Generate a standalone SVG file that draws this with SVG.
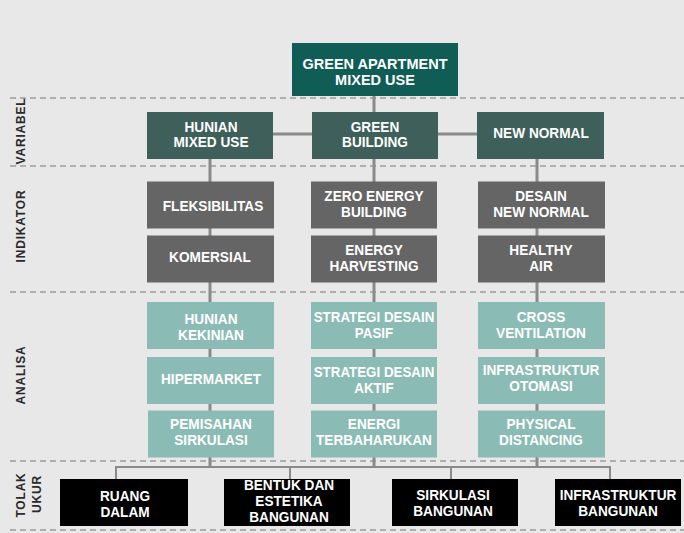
<svg xmlns="http://www.w3.org/2000/svg" width="684" height="533" viewBox="0 0 684 533">
  <style>
    .bg { fill: #e8e8e8; }
    .sep { stroke: #9c9c9c; stroke-width: 1.5; stroke-dasharray: 6 4; fill: none; }
    .wire { stroke: #8a8a8a; stroke-width: 3; fill: none; }
    .wire-thin { stroke: #8a8a8a; stroke-width: 2; fill: none; }
    .root { fill: #0f5d54; }
    .var { fill: #3e5f5a; }
    .ind { fill: #656565; }
    .ana { fill: #8bbbb5; }
    .ukur { fill: #000000; }
    .t { font-family: "Liberation Sans", Arial, sans-serif; font-weight: bold; font-size: 15px; fill: #ffffff; text-anchor: middle; }
    .troot { font-family: "Liberation Sans", Arial, sans-serif; font-weight: bold; font-size: 14.5px; fill: #ffffff; text-anchor: middle; }
    .side { font-family: "Liberation Sans", Arial, sans-serif; font-weight: bold; font-size: 12px; fill: #2a2a2a; text-anchor: middle; letter-spacing: 0.8px; }
  </style>

  <rect class="bg" x="0" y="0" width="684" height="533"/>

  <!-- row separators -->
  <g id="separators">
    <line class="sep" x1="10" y1="98" x2="684" y2="98"/>
    <line class="sep" x1="10" y1="166" x2="684" y2="166"/>
    <line class="sep" x1="10" y1="292" x2="684" y2="292"/>
    <line class="sep" x1="10" y1="461" x2="684" y2="461"/>
    <line class="sep" x1="10" y1="530" x2="684" y2="530"/>
  </g>

  <!-- row labels -->
  <g id="row-labels">
    <text class="side" transform="translate(25 131) rotate(-90)">VARIABEL</text>
    <text class="side" transform="translate(25 226) rotate(-90)">INDIKATOR</text>
    <text class="side" transform="translate(25 375) rotate(-90)">ANALISA</text>
    <text class="side" transform="translate(25 495) rotate(-90)">TOLAK</text>
    <text class="side" transform="translate(41 494) rotate(-90)">UKUR</text>
  </g>

  <!-- connectors -->
  <g id="connectors">
    <line class="wire" x1="374" y1="96" x2="374" y2="113"/>
    <line class="wire" x1="273" y1="134" x2="312" y2="134"/>
    <line class="wire" x1="438" y1="134" x2="477" y2="134"/>
    <line class="wire" x1="210" y1="158" x2="210" y2="467"/>
    <line class="wire" x1="374" y1="158" x2="374" y2="467"/>
    <line class="wire" x1="537" y1="158" x2="537" y2="467"/>
    <polyline class="wire-thin" points="116,480 116,467 610,467 610,480"/>
    <line class="wire-thin" x1="290" y1="467" x2="290" y2="480"/>
    <line class="wire-thin" x1="451" y1="467" x2="451" y2="480"/>
  </g>

  <!-- root -->
  <g id="green-apartment">
    <rect class="root" x="292" y="43" width="166" height="53"/>
    <text class="troot" x="375" y="68.5">GREEN APARTMENT</text>
    <text class="troot" x="375" y="84.5">MIXED USE</text>
  </g>

  <!-- variabel -->
  <g id="hunian-mixed-use">
    <rect class="var" x="147" y="112" width="126" height="47"/>
    <g transform="translate(211 0) scale(0.91 1)">
      <text class="t" x="0" y="131.7">HUNIAN</text>
      <text class="t" x="0" y="147.3">MIXED USE</text>
    </g>
  </g>
  <g id="green-building">
    <rect class="var" x="312" y="112" width="126" height="47"/>
    <g transform="translate(375 0) scale(0.91 1)">
      <text class="t" x="0" y="131.7">GREEN</text>
      <text class="t" x="0" y="147.3">BUILDING</text>
    </g>
  </g>
  <g id="new-normal">
    <rect class="var" x="477" y="112" width="127" height="47"/>
    <g transform="translate(541 0) scale(0.91 1)">
      <text class="t" x="0" y="138.5">NEW NORMAL</text>
    </g>
  </g>

  <!-- indikator -->
  <g id="fleksibilitas">
    <rect class="ind" x="147" y="181.5" width="127" height="47"/>
    <g transform="translate(213 0) scale(0.91 1)">
      <text class="t" x="0" y="211">FLEKSIBILITAS</text>
    </g>
  </g>
  <g id="komersial">
    <rect class="ind" x="147" y="235.5" width="127" height="47"/>
    <g transform="translate(210 0) scale(0.91 1)">
      <text class="t" x="0" y="262">KOMERSIAL</text>
    </g>
  </g>
  <g id="zero-energy-building">
    <rect class="ind" x="311" y="181.5" width="126" height="47"/>
    <g transform="translate(374 0) scale(0.91 1)">
      <text class="t" x="0" y="201.5">ZERO ENERGY</text>
      <text class="t" x="0" y="217.5">BUILDING</text>
    </g>
  </g>
  <g id="energy-harvesting">
    <rect class="ind" x="311" y="235.5" width="126" height="47"/>
    <g transform="translate(374 0) scale(0.91 1)">
      <text class="t" x="0" y="255.5">ENERGY</text>
      <text class="t" x="0" y="271.5">HARVESTING</text>
    </g>
  </g>
  <g id="desain-new-normal">
    <rect class="ind" x="478" y="181.5" width="127" height="47"/>
    <g transform="translate(541 0) scale(0.91 1)">
      <text class="t" x="0" y="201.5">DESAIN</text>
      <text class="t" x="0" y="217.5">NEW NORMAL</text>
    </g>
  </g>
  <g id="healthy-air">
    <rect class="ind" x="478" y="235.5" width="127" height="47"/>
    <g transform="translate(541 0) scale(0.91 1)">
      <text class="t" x="0" y="255.5">HEALTHY</text>
      <text class="t" x="0" y="271.5">AIR</text>
    </g>
  </g>

  <!-- analisa -->
  <g id="hunian-kekinian">
    <rect class="ana" x="147" y="302" width="127" height="47"/>
    <g transform="translate(211 0) scale(0.91 1)">
      <text class="t" x="0" y="324">HUNIAN</text>
      <text class="t" x="0" y="340.5">KEKINIAN</text>
    </g>
  </g>
  <g id="hipermarket">
    <rect class="ana" x="147" y="357" width="127" height="47"/>
    <g transform="translate(211 0) scale(0.91 1)">
      <text class="t" x="0" y="384">HIPERMARKET</text>
    </g>
  </g>
  <g id="pemisahan-sirkulasi">
    <rect class="ana" x="148" y="410.5" width="126" height="47"/>
    <g transform="translate(211 0) scale(0.91 1)">
      <text class="t" x="0" y="429.3">PEMISAHAN</text>
      <text class="t" x="0" y="445.3">SIRKULASI</text>
    </g>
  </g>
  <g id="strategi-desain-pasif">
    <rect class="ana" x="311" y="302" width="126" height="47"/>
    <g transform="translate(374 0) scale(0.89 1)">
      <text class="t" x="0" y="322">STRATEGI DESAIN</text>
      <text class="t" x="0" y="337.7">PASIF</text>
    </g>
  </g>
  <g id="strategi-desain-aktif">
    <rect class="ana" x="311" y="357" width="126" height="47"/>
    <g transform="translate(374 0) scale(0.89 1)">
      <text class="t" x="0" y="376.7">STRATEGI DESAIN</text>
      <text class="t" x="0" y="392.7">AKTIF</text>
    </g>
  </g>
  <g id="energi-terbaharukan">
    <rect class="ana" x="311" y="410.5" width="126" height="47"/>
    <g transform="translate(374 0) scale(0.91 1)">
      <text class="t" x="0" y="429">ENERGI</text>
      <text class="t" x="0" y="445.3">TERBAHARUKAN</text>
    </g>
  </g>
  <g id="cross-ventilation">
    <rect class="ana" x="478" y="302" width="127" height="47"/>
    <g transform="translate(541 0) scale(0.91 1)">
      <text class="t" x="0" y="322">CROSS</text>
      <text class="t" x="0" y="337.7">VENTILATION</text>
    </g>
  </g>
  <g id="infrastruktur-otomasi">
    <rect class="ana" x="478" y="357" width="127" height="47"/>
    <g transform="translate(541 0) scale(0.91 1)">
      <text class="t" x="0" y="375.5">INFRASTRUKTUR</text>
      <text class="t" x="0" y="391.5">OTOMASI</text>
    </g>
  </g>
  <g id="physical-distancing">
    <rect class="ana" x="478" y="410.5" width="127" height="47"/>
    <g transform="translate(541 0) scale(0.91 1)">
      <text class="t" x="0" y="429.3">PHYSICAL</text>
      <text class="t" x="0" y="445.3">DISTANCING</text>
    </g>
  </g>

  <!-- tolak ukur -->
  <g id="ruang-dalam">
    <rect class="ukur" x="60" y="479" width="128" height="47"/>
    <g transform="translate(125 0) scale(0.91 1)">
      <text class="t" x="0" y="501">RUANG</text>
      <text class="t" x="0" y="517">DALAM</text>
    </g>
  </g>
  <g id="bentuk-estetika-bangunan">
    <rect class="ukur" x="224" y="479" width="126" height="47"/>
    <g transform="translate(289 0) scale(0.91 1)">
      <text class="t" x="0" y="490">BENTUK DAN</text>
      <text class="t" x="0" y="506">ESTETIKA</text>
      <text class="t" x="0" y="522">BANGUNAN</text>
    </g>
  </g>
  <g id="sirkulasi-bangunan">
    <rect class="ukur" x="392" y="479" width="126" height="47"/>
    <g transform="translate(453 0) scale(0.91 1)">
      <text class="t" x="0" y="500">SIRKULASI</text>
      <text class="t" x="0" y="516">BANGUNAN</text>
    </g>
  </g>
  <g id="infrastruktur-bangunan">
    <rect class="ukur" x="555" y="479" width="126" height="47"/>
    <g transform="translate(618 0) scale(0.91 1)">
      <text class="t" x="0" y="500">INFRASTRUKTUR</text>
      <text class="t" x="0" y="516">BANGUNAN</text>
    </g>
  </g>
</svg>
